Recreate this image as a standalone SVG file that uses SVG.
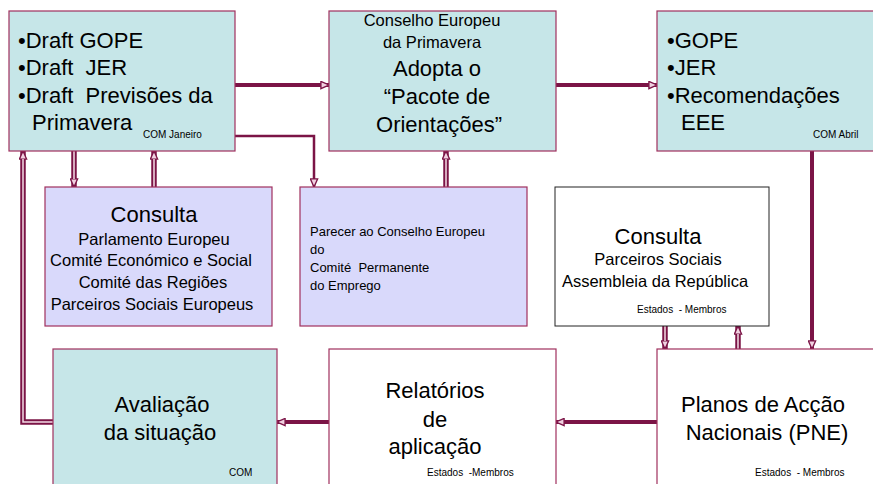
<svg xmlns="http://www.w3.org/2000/svg" width="873" height="484" viewBox="0 0 873 484">
<style>
.cyan{fill:#c6e6e8;stroke:#a0305e;stroke-width:1.2}
.purple{fill:#d9d9fb;stroke:#a0305e;stroke-width:1.2}
.white{fill:#ffffff;stroke:#a0305e;stroke-width:1.2}
.whiteb{fill:#ffffff;stroke:#222222;stroke-width:1}
text{font-family:"Liberation Sans",Arial,sans-serif;fill:#000}
.big{font-size:22px}
.mid{font-size:16.5px}
.sm{font-size:13px}
.xs{font-size:10px}
.c{text-anchor:middle}
.thick{fill:none;stroke:#7b1446;stroke-width:4}
.thin{fill:none;stroke:#7b1446;stroke-width:2.5}
.dbl{fill:none;stroke:#7b1446;stroke-width:5.5}
.dblin{fill:none;stroke:#f3dce6;stroke-width:1.5}
</style>
<defs>
<marker id="ah" viewBox="0 0 10 10" refX="9.5" refY="5" markerWidth="9" markerHeight="9" markerUnits="userSpaceOnUse" orient="auto">
<path d="M0.5,1 L9.5,5 L0.5,9 z" fill="#f0d0e0" stroke="#7b1446" stroke-width="1.5"/>
</marker>
</defs>
<g id="connectors">
<path class="thick" d="M235,85 H329" marker-end="url(#ah)"/>
<path class="thin" d="M235,136 H314 V187" marker-end="url(#ah)"/>
<path class="thick" d="M556,85 H657" marker-end="url(#ah)"/>
<path class="thick" d="M812,151 V349" marker-end="url(#ah)"/>
<path class="thick" d="M657,422 H556" marker-end="url(#ah)"/>
<path class="thick" d="M329,422 H277" marker-end="url(#ah)"/>
<path class="dbl" d="M74,151 V187" marker-end="url(#ah)"/>
<path class="dblin" d="M74,151 V179"/>
<path class="dbl" d="M154,187 V151" marker-end="url(#ah)"/>
<path class="dblin" d="M154,187 V159"/>
<path class="dbl" d="M446,187 V151" marker-end="url(#ah)"/>
<path class="dblin" d="M446,187 V159"/>
<path class="dbl" d="M665,326 V349" marker-end="url(#ah)"/>
<path class="dblin" d="M665,326 V341"/>
<path class="dbl" d="M738,349 V326" marker-end="url(#ah)"/>
<path class="dblin" d="M738,349 V334"/>
<path class="dbl" d="M53,422 H23 V151" marker-end="url(#ah)"/>
<path class="dblin" d="M53,422 H23 V159"/>
</g>
<g id="draft">
<rect class="cyan" x="9" y="11" width="226" height="140"/>
<text class="big" x="18" y="48">•Draft GOPE</text>
<text class="big" x="18" y="75">•Draft&#160; JER</text>
<text class="big" x="18" y="103">•Draft&#160; Previsões da</text>
<text class="big" x="32" y="130">Primavera</text>
<text class="xs" x="143" y="138">COM Janeiro</text>
</g>
<g id="conselho">
<rect class="cyan" x="329" y="11" width="227" height="140"/>
<text class="mid c" x="432" y="26">Conselho Europeu</text>
<text class="mid c" x="432" y="48">da Primavera</text>
<text class="big c" x="437" y="76">Adopta o</text>
<text class="big c" x="437" y="104">“Pacote de</text>
<text class="big c" x="439" y="132">Orientações”</text>
</g>
<g id="gope">
<rect class="cyan" x="657" y="11" width="230" height="140"/>
<text class="big" x="667" y="48">•GOPE</text>
<text class="big" x="667" y="75">•JER</text>
<text class="big" x="667" y="103">•Recomendações</text>
<text class="big" x="681" y="130">EEE</text>
<text class="xs" x="813" y="138">COM Abril</text>
</g>
<g id="consulta1">
<rect class="purple" x="45" y="187" width="227" height="139"/>
<text class="big c" x="154" y="222">Consulta</text>
<text class="mid c" x="154" y="245">Parlamento Europeu</text>
<text class="mid c" x="151" y="266">Comité Económico e Social</text>
<text class="mid c" x="153" y="288">Comité das Regiões</text>
<text class="mid c" x="152" y="310">Parceiros Sociais Europeus</text>
</g>
<g id="parecer">
<rect class="purple" x="300" y="187" width="227" height="139"/>
<text class="sm" x="310" y="236">Parecer ao Conselho Europeu</text>
<text class="sm" x="310" y="254">do</text>
<text class="sm" x="310" y="272">Comité&#160; Permanente</text>
<text class="sm" x="310" y="290">do Emprego</text>
</g>
<g id="consulta2">
<rect class="whiteb" x="555" y="187" width="214" height="139"/>
<text class="big c" x="658" y="244">Consulta</text>
<text class="mid c" x="658" y="265">Parceiros Sociais</text>
<text class="mid c" x="655" y="287">Assembleia da República</text>
<text class="xs" x="637" y="313">Estados&#160; - Membros</text>
</g>
<g id="avaliacao">
<rect class="cyan" x="53" y="349" width="224" height="150"/>
<text class="big c" x="162" y="412">Avaliação</text>
<text class="big c" x="160" y="440">da situação</text>
<text class="xs" x="229" y="476">COM</text>
</g>
<g id="relatorios">
<rect class="white" x="329" y="349" width="227" height="150"/>
<text class="big c" x="435" y="398">Relatórios</text>
<text class="big c" x="435" y="427">de</text>
<text class="big c" x="435" y="454">aplicação</text>
<text class="xs" x="427" y="476">Estados&#160; -Membros</text>
</g>
<g id="planos">
<rect class="white" x="657" y="349" width="230" height="150"/>
<text class="big c" x="763" y="412">Planos de Acção</text>
<text class="big c" x="767" y="440">Nacionais (PNE)</text>
<text class="xs" x="755" y="476">Estados&#160; - Membros</text>
</g>
</svg>
